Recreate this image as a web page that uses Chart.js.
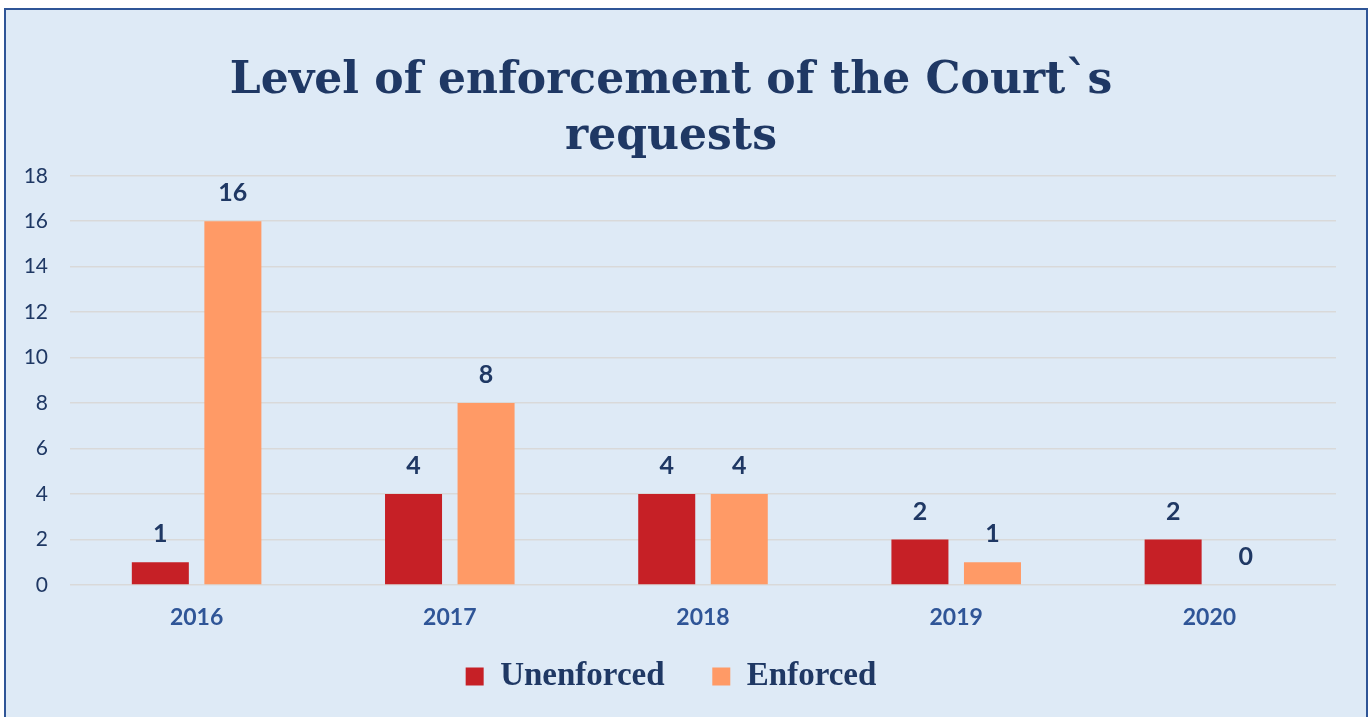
<!DOCTYPE html>
<html lang="en">
<head>
    <meta charset="UTF-8">
    <title>Level of enforcement of the Court`s requests</title>
    <script src="https://cdn.jsdelivr.net/npm/chart.js"></script>
    <style>
        body {
            margin: 0;
            background: #ffffff;
        }

        .frame {
            position: absolute;
            left: 4px;
            top: 8px;
            width: 1360px;
            height: 720px;
            border: 2px solid #2f5597;
            background: #deeaf6;
        }

        .chart-container {
            position: absolute;
            left: 0;
            top: 0;
            width: 1334px;
            height: 707px;
        }
    </style>
</head>
<body>
<div class="frame">
    <div class="chart-container">
        <canvas id="enforcementChart"></canvas>
    </div>
</div>

<script>
    const years = ['2016', '2017', '2018', '2019', '2020'];
    const unenforced = [1, 4, 4, 2, 2];
    const enforced = [16, 8, 4, 1, 0];
    const yMax = 18;
    const yStep = 2;

    const navy = '#1f3864';

    // value labels above each bar
    const barLabels = {
        id: 'barLabels',
        afterDatasetsDraw(chart) {
            const ctx = chart.ctx;
            ctx.save();
            ctx.font = 'bold 25px Lato, sans-serif';
            ctx.fillStyle = navy;
            ctx.textAlign = 'center';
            ctx.textBaseline = 'middle';
            chart.data.datasets.forEach((ds, i) => {
                chart.getDatasetMeta(i).data.forEach((bar, j) => {
                    ctx.fillText(ds.data[j], bar.x, bar.y - 28);
                });
            });
            ctx.restore();
        }
    };

    new Chart(document.getElementById('enforcementChart'), {
        type: 'bar',
        data: {
            labels: years,
            datasets: [{
                label: 'Unenforced',
                data: unenforced,
                backgroundColor: '#c62026',
                categoryPercentage: 0.573,
                barPercentage: 0.786
            }, {
                label: 'Enforced',
                data: enforced,
                backgroundColor: '#ff9a66',
                categoryPercentage: 0.573,
                barPercentage: 0.786
            }]
        },
        options: {
            responsive: true,
            maintainAspectRatio: false,
            animation: false,
            layout: {padding: {left: 0, right: 4, top: 0, bottom: 14}},
            plugins: {
                title: {
                    display: true,
                    text: ['Level of enforcement of the Court`s', 'requests'],
                    color: navy,
                    font: {family: 'DejaVu Serif', size: 44, weight: 'bold', lineHeight: 1.27},
                    padding: {top: 44, bottom: 10}
                },
                legend: {
                    position: 'bottom',
                    labels: {
                        boxWidth: 18,
                        boxHeight: 18,
                        padding: 23,
                        color: navy,
                        font: {family: 'Liberation Serif', size: 33, weight: 'bold'},
                        generateLabels(chart) {
                            // extra space after the first item, as in the original legend
                            const items = Chart.defaults.plugins.legend.labels.generateLabels(chart);
                            items.forEach((item, i) => {
                                if (i < items.length - 1) item.text += '   ';
                            });
                            return items;
                        }
                    }
                },
                tooltip: {enabled: false}
            },
            scales: {
                x: {
                    grid: {display: false, drawTicks: false},
                    border: {display: false},
                    ticks: {
                        color: '#2f5597',
                        padding: 19,
                        font: {family: 'Lato', size: 23, weight: 'bold'}
                    },
                    afterFit(scale) {
                        scale.height = 52;
                    }
                },
                y: {
                    min: 0,
                    max: yMax,
                    grid: {color: '#d9d9d9', lineWidth: 1.5, drawTicks: false},
                    border: {display: false},
                    ticks: {
                        stepSize: yStep,
                        color: navy,
                        padding: 22,
                        font: {family: 'Lato', size: 21}
                    },
                    afterFit(scale) {
                        scale.width = 64;
                    }
                }
            }
        },
        plugins: [barLabels]
    });
</script>
</body>
</html>
